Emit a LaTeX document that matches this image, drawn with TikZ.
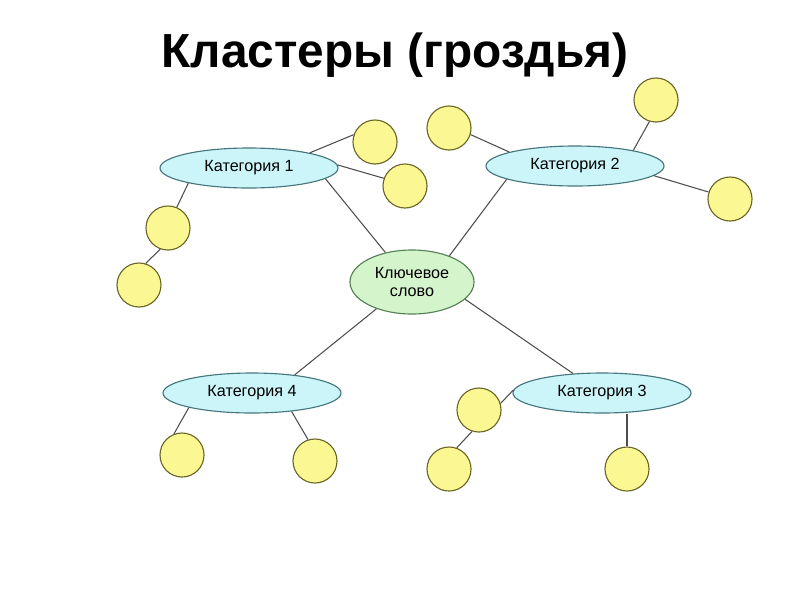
\documentclass[tikz,border=0pt]{standalone}
\usepackage{fontspec}
\setmainfont{Liberation Sans}
\usetikzlibrary{shapes.geometric}
\definecolor{catfill}{HTML}{CCF5FA}
\definecolor{catline}{HTML}{44767C}
\definecolor{keyfill}{HTML}{D4F5CC}
\definecolor{keyline}{HTML}{557F55}
\definecolor{leaffill}{HTML}{FBF894}
\definecolor{leafline}{HTML}{6A6628}
\definecolor{linkgray}{HTML}{4D4D4D}
\begin{document}
\begin{tikzpicture}[x=0.025cm, y=-0.025cm,
    cat/.style={ellipse, draw=catline, fill=catfill, line width=0.8pt,
        inner sep=0pt, minimum width=4.45cm, minimum height=1cm,
        font=\fontsize{11.5}{13}\selectfont},
    leaf/.style={circle, draw=leafline, fill=leaffill, line width=0.8pt,
        inner sep=0pt, minimum size=1.1cm},
    link/.style={draw=linkgray, line width=0.75pt}]
    \useasboundingbox (0,0) rectangle (800,600);
    \node (title) at (395,55) {\fontsize{34}{40}\selectfont\bfseries Кластеры (гроздья)};
    % centre and categories
    \node[ellipse, draw=keyline, fill=keyfill, line width=0.8pt, inner sep=0pt,
        minimum width=3.1cm, minimum height=1.6cm, align=center,
        font=\fontsize{11.5}{13}\selectfont] (key) at (412,282) {Ключевое\\слово};
    \node[cat] (cat1) at (249,168) {Категория 1};
    \node[cat] (cat2) at (575,166) {Категория 2};
    \node[cat] (cat3) at (602,393) {Категория 3};
    \node[cat] (cat4) at (252,393) {Категория 4};
    % leaves
    \node[leaf] (c1a) at (375,142) {};
    \node[leaf] (c1b) at (405,186) {};
    \node[leaf] (c1c) at (168,228) {};
    \node[leaf] (c1d) at (139,285) {};
    \node[leaf] (c2a) at (449,128) {};
    \node[leaf] (c2b) at (656,100) {};
    \node[leaf] (c2c) at (730,199) {};
    \node[leaf] (c3a) at (479,410) {};
    \node[leaf] (c3b) at (449,469) {};
    \node[leaf] (c3c) at (627,469) {};
    \node[leaf] (c4a) at (182,455) {};
    \node[leaf] (c4b) at (315,461) {};
    % links
    \draw[link] (cat1.-8) -- (key.132);
    \draw[link] (cat2.191) -- (key.35);
    \draw[link] (key.-18) -- (cat3.146);
    \draw[link] (key.217) -- (cat4.23);
    \draw[link] (cat1.14) -- (c1a.161);
    \draw[link] (cat1.2) -- (c1b.160);
    \draw[link] (cat1.194) -- (c1c.67);
    \draw[link] (c1c.250) -- (c1d.73);
    \draw[link] (cat2.168) -- (c2a.-17);
    \draw[link] (cat2.15) -- (c2b.253);
    \draw[link] (cat2.-7) -- (c2c.162);
    \draw[link] (cat3.178) -- (c3a.17);
    \draw[link] (c3a.252) -- (c3b.70);
    \draw[link] (c3c.north) -- (c3c.north |- cat3.south);
    \draw[link] (cat4.193) -- (c4a.111);
    \draw[link] (cat4.-25) -- (c4b.108);
\end{tikzpicture}
\end{document}
